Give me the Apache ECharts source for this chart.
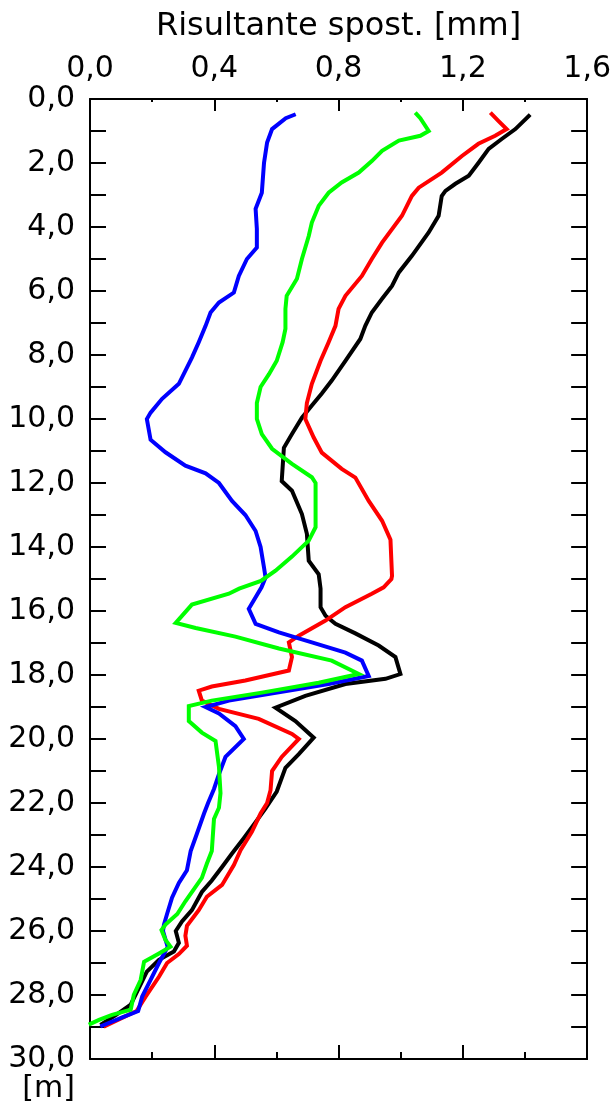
<!DOCTYPE html>
<html>
<head>
<meta charset="utf-8">
<script src="https://cdn.jsdelivr.net/npm/echarts@6/dist/echarts.min.js"></script>
<style>
html,body{margin:0;padding:0;background:#fff;}
#chart{width:614px;height:1104px;}
</style>
</head>
<body>
<div id="chart"></div>
<script>
// x tick labels (mm) and y tick labels (m)
var xTickValues = [0, 0.4, 0.8, 1.2, 1.6];
var xTickLabels = ['0,0', '0,4', '0,8', '1,2', '1,6'];
var yTickValues = [0, 2, 4, 6, 8, 10, 12, 14, 16, 18, 20, 22, 24, 26, 28, 30];
var yTickLabels = ['0,0', '2,0', '4,0', '6,0', '8,0', '10,0', '12,0', '14,0', '16,0', '18,0', '20,0', '22,0', '24,0', '26,0', '28,0', '30,0'];

// Blue series
var blueDepth = [0.5,0.6,0.94,1.36,2.0,2.93,3.43,4.06,4.64,5.0,5.53,6.05,6.36,6.67,7.09,7.6,8.08,8.9,9.37,9.8,10.0,10.65,11.04,11.46,11.7,12.0,12.56,13.0,13.5,14.0,14.64,14.95,15.26,15.93,16.4,16.67,16.98,17.3,17.55,18.03,18.28,18.8,19.0,19.2,19.6,20.0,20.56,21.1,21.56,22.0,22.33,22.96,23.5,24.1,24.5,24.96,25.47,25.8,26.0,26.5,27.0,27.53,28.05,28.5,28.7,28.96];
var blueValue = [0.656,0.63,0.586,0.57,0.56,0.553,0.533,0.537,0.537,0.505,0.479,0.463,0.415,0.388,0.372,0.35,0.328,0.286,0.232,0.195,0.183,0.195,0.243,0.307,0.372,0.415,0.457,0.5,0.533,0.549,0.56,0.565,0.552,0.511,0.533,0.608,0.714,0.822,0.875,0.897,0.768,0.447,0.372,0.415,0.468,0.495,0.436,0.415,0.399,0.38,0.367,0.344,0.324,0.312,0.286,0.264,0.248,0.238,0.235,0.25,0.222,0.195,0.168,0.155,0.104,0.039];

// Green series
var greenDepth = [0.47,0.6,1.0,1.15,1.3,1.62,1.94,2.3,2.61,2.93,3.34,3.86,4.28,5.0,5.62,6.15,6.56,7.18,7.6,8.18,8.6,9.0,9.5,10.0,10.47,10.93,11.4,11.82,12.0,13.38,13.8,14.3,14.74,15.06,15.3,15.46,15.8,16.37,16.53,16.8,17.17,17.55,17.97,18.24,18.55,18.8,18.97,19.44,19.8,20.06,20.87,21.69,22.15,22.5,23.5,23.9,24.34,24.7,25.07,25.47,25.8,25.97,26.28,26.49,26.7,26.96,27.53,28.0,28.46,28.62,28.78,28.9];
var greenValue = [1.051,1.063,1.09,1.063,0.994,0.94,0.907,0.865,0.81,0.768,0.736,0.714,0.704,0.682,0.666,0.633,0.629,0.629,0.62,0.601,0.576,0.549,0.537,0.537,0.553,0.586,0.65,0.714,0.726,0.726,0.704,0.65,0.597,0.55,0.48,0.447,0.328,0.276,0.34,0.468,0.608,0.778,0.865,0.736,0.553,0.392,0.318,0.318,0.36,0.404,0.415,0.42,0.415,0.399,0.392,0.376,0.36,0.334,0.307,0.281,0.243,0.23,0.243,0.259,0.222,0.174,0.163,0.141,0.131,0.071,0.029,0.002];

// Red series
var redDepth = [0.47,0.69,0.94,1.15,1.4,1.78,2.3,2.77,3.03,3.65,4.49,5.0,5.53,6.15,6.56,7.09,7.6,8.18,8.9,9.5,10.0,10.58,11.05,11.56,11.83,12.56,13.18,13.77,14.9,15.0,15.26,15.46,15.88,16.3,16.77,16.98,17.44,17.86,18.17,18.36,18.49,18.8,19.06,19.37,19.84,20.0,20.56,21.0,21.6,22.0,22.33,22.9,23.47,23.94,24.56,24.93,25.35,25.84,26.15,26.46,26.72,27.0,27.43,28.05,28.5,28.96];
var redValue = [1.293,1.315,1.341,1.304,1.25,1.197,1.132,1.058,1.036,1.004,0.94,0.907,0.875,0.822,0.8,0.79,0.768,0.742,0.714,0.698,0.693,0.72,0.746,0.81,0.854,0.897,0.94,0.967,0.972,0.97,0.945,0.907,0.822,0.758,0.672,0.64,0.65,0.64,0.5,0.392,0.35,0.36,0.415,0.543,0.65,0.672,0.617,0.586,0.581,0.57,0.549,0.521,0.485,0.463,0.425,0.376,0.35,0.312,0.307,0.312,0.286,0.248,0.222,0.179,0.15,0.05];

// Black series
var blackDepth = [0.53,0.94,1.25,1.56,2.0,2.4,2.65,2.87,3.03,3.65,4.17,4.9,5.42,5.84,6.24,6.67,7.09,7.5,8.18,8.8,9.2,9.58,9.96,10.47,10.9,11.94,12.24,12.97,13.59,14.43,14.85,15.3,15.88,16.15,16.4,16.7,17.08,17.44,17.97,18.12,18.28,18.65,19.02,19.44,19.96,20.47,20.9,21.64,22.17,22.6,23.1,23.58,24.0,24.42,24.78,25.35,25.7,26.0,26.37,26.64,26.9,27.27,28.3,28.63,28.9];
var blackValue = [1.412,1.369,1.325,1.283,1.25,1.219,1.176,1.144,1.132,1.122,1.09,1.036,0.994,0.972,0.94,0.907,0.886,0.87,0.822,0.778,0.746,0.714,0.682,0.65,0.624,0.617,0.65,0.682,0.698,0.704,0.736,0.742,0.742,0.758,0.79,0.854,0.929,0.983,0.999,0.951,0.822,0.693,0.597,0.661,0.72,0.672,0.629,0.601,0.565,0.533,0.495,0.457,0.425,0.392,0.36,0.328,0.296,0.276,0.286,0.27,0.222,0.183,0.131,0.083,0.039];

function pairs(vals, depths) {
  return vals.map(function (v, i) { return [v, depths[i]]; });
}
function lookup(values, labels) {
  return function (v) {
    for (var i = 0; i < values.length; i++) {
      if (Math.abs(values[i] - v) < 1e-6) return labels[i];
    }
    return '';
  };
}

var FONT = 'DejaVu Sans';
var chart = echarts.init(document.getElementById('chart'), null, { renderer: 'canvas' });

function lineSeries(name, color, vals, depths) {
  return {
    name: name,
    type: 'line',
    xAxisIndex: 0,
    yAxisIndex: 0,
    data: pairs(vals, depths),
    showSymbol: false,
    symbol: 'none',
    smooth: false,
    lineStyle: { color: color, width: 4, cap: 'square', join: 'miter' },
    itemStyle: { color: color },
    animation: false,
    silent: true
  };
}

var option = {
  animation: false,
  backgroundColor: '#ffffff',
  grid: { left: 90, right: 25, top: 99, bottom: 45, containLabel: false, show: false },
  xAxis: [
    {
      type: 'value', position: 'top', min: 0, max: 1.6, interval: 0.4,
      name: 'Risultante spost. [mm]', nameLocation: 'middle', nameGap: 56,
      nameTextStyle: { fontFamily: FONT, fontSize: 32, color: '#000' },
      axisLine: { show: true, onZero: false, lineStyle: { color: '#000', width: 2 } },
      axisTick: { show: true, inside: true, length: 12, lineStyle: { color: '#000', width: 2 } },
      minorTick: { show: true, splitNumber: 2, length: 3, lineStyle: { color: '#000', width: 2 } },
      axisLabel: { show: true, margin: 15, fontFamily: FONT, fontSize: 30, color: '#000',
        formatter: lookup(xTickValues, xTickLabels) },
      splitLine: { show: false }
    },
    {
      type: 'value', position: 'bottom', min: 0, max: 1.6, interval: 0.4,
      axisLine: { show: true, onZero: false, lineStyle: { color: '#000', width: 2 } },
      axisTick: { show: true, inside: true, length: 14, lineStyle: { color: '#000', width: 2 } },
      minorTick: { show: true, splitNumber: 2, length: 7, lineStyle: { color: '#000', width: 2 } },
      axisLabel: { show: false },
      splitLine: { show: false }
    }
  ],
  yAxis: [
    {
      type: 'value', position: 'left', inverse: true, min: 0, max: 30, interval: 2,
      name: '[m]', nameLocation: 'end', nameGap: 12,
      nameTextStyle: { fontFamily: FONT, fontSize: 30, color: '#000', align: 'right', padding: [0, 15, 0, 0] },
      axisLine: { show: true, onZero: false, lineStyle: { color: '#000', width: 2 } },
      axisTick: { show: true, inside: true, length: 16, lineStyle: { color: '#000', width: 2 } },
      minorTick: { show: true, splitNumber: 2, length: 16, lineStyle: { color: '#000', width: 2 } },
      axisLabel: { show: true, margin: 15, fontFamily: FONT, fontSize: 30, color: '#000',
        formatter: lookup(yTickValues, yTickLabels) },
      splitLine: { show: false }
    },
    {
      type: 'value', position: 'right', inverse: true, min: 0, max: 30, interval: 2,
      axisLine: { show: true, onZero: false, lineStyle: { color: '#000', width: 2 } },
      axisTick: { show: true, inside: true, length: 16, lineStyle: { color: '#000', width: 2 } },
      minorTick: { show: true, splitNumber: 2, length: 16, lineStyle: { color: '#000', width: 2 } },
      axisLabel: { show: false },
      splitLine: { show: false }
    }
  ],
  series: [
    lineSeries('black', '#000000', blackValue, blackDepth),
    lineSeries('red', '#ff0000', redValue, redDepth),
    lineSeries('blue', '#0000ff', blueValue, blueDepth),
    lineSeries('green', '#00ff00', greenValue, greenDepth)
  ]
};
chart.setOption(option);
</script>
</body>
</html>
